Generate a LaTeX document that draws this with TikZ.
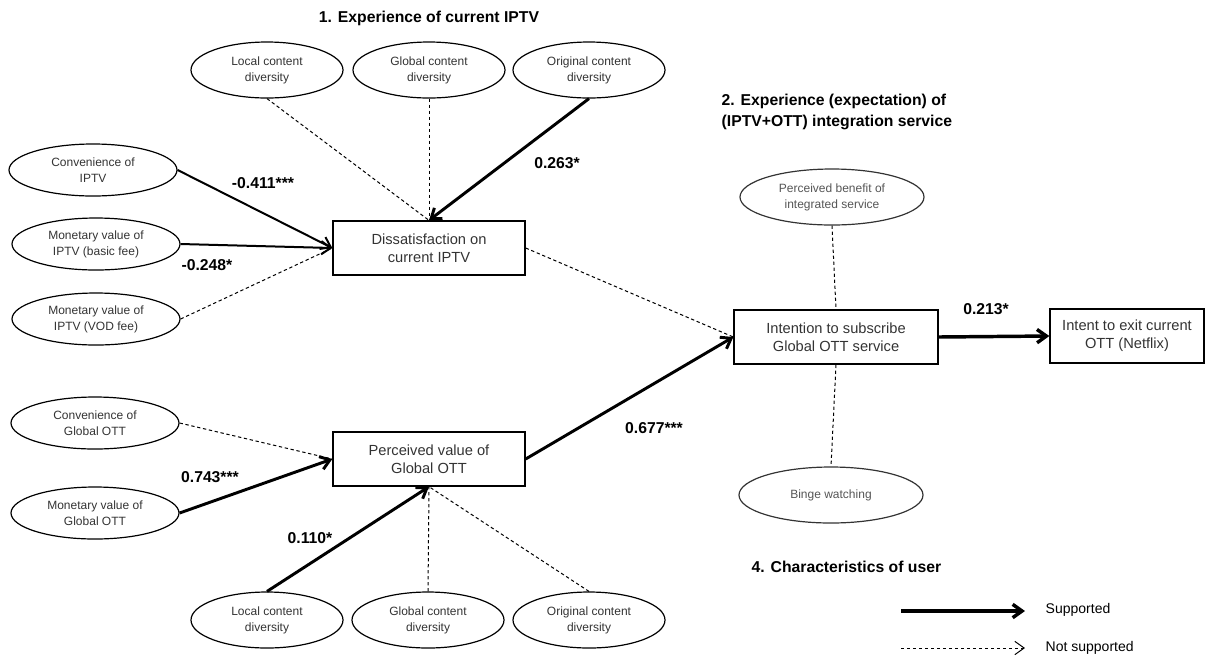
\documentclass[tikz,border=0pt]{standalone}
\usepackage{fontspec}
\setmainfont{Liberation Sans}
\usetikzlibrary{shapes.geometric,arrows.meta}
\definecolor{txt}{HTML}{333333}
\definecolor{soft}{HTML}{555555}
\tikzset{
  oval/.style={ellipse,draw,line width=0.9pt,inner sep=0pt,align=center,text=txt,
    font=\fontsize{9}{12}\selectfont},
  ovalC/.style={oval,minimum width=114pt,minimum height=42pt},
  ovalL/.style={oval,minimum width=126pt,minimum height=39pt},
  ovalR/.style={oval,minimum width=138pt,minimum height=42pt,text=soft,draw=black!80},
  boxnode/.style={rectangle,draw,line width=1pt,inner sep=0pt,align=center,text=txt,
    minimum height=40.5pt,font=\fontsize{11}{13.5}\selectfont},
  coef/.style={font=\fontsize{11.8}{13}\selectfont\bfseries},
  heading/.style={font=\fontsize{11.8}{15.75}\selectfont\bfseries,align=left},
  legtext/.style={font=\fontsize{10.5}{12}\selectfont,anchor=west},
  tip/.style={-{Straight Barb[length=7pt,width=10pt]}},
  strong/.style={tip,line width=2.2pt},
  medium/.style={tip,line width=1.5pt},
  weak/.style={line width=0.75pt,dash pattern=on 2.5pt off 2pt},
}
\begin{document}
\begin{tikzpicture}[x=0.75pt,y=-0.75pt]
\useasboundingbox (0,0) rectangle (1206,662);
% headings
\node[heading] (t1) at (429,18) {1. Experience of current IPTV};
\node[heading,anchor=west] (t2) at (717,112) {2. Experience (expectation) of\\(IPTV+OTT) integration service};
\node[heading,anchor=west] (t4) at (747,567) {4. Characteristics of user};
% top ellipses
\node[ovalC] (L1) at (267,70) {Local content\\diversity};
\node[ovalC] (G1) at (429,70) {Global content\\diversity};
\node[ovalC] (O1) at (589,70) {Original content\\diversity};
% left ellipses
\node[ovalL] (C1) at (93,170) {Convenience of\\IPTV};
\node[ovalL] (B1) at (96,244) {Monetary value of\\IPTV (basic fee)};
\node[ovalL] (V1) at (96,319) {Monetary value of\\IPTV (VOD fee)};
\node[ovalL] (C2) at (95,423) {Convenience of\\Global OTT};
\node[ovalL] (M2) at (95,513) {Monetary value of\\Global OTT};
% bottom ellipses
\node[ovalC] (L2) at (267,620) {Local content\\diversity};
\node[ovalC] (G2) at (428,620) {Global content\\diversity};
\node[ovalC] (O2) at (589,620) {Original content\\diversity};
% boxes
\node[boxnode,minimum width=144pt] (D) at (429,248) {Dissatisfaction on\\current IPTV};
\node[boxnode,minimum width=144pt] (P) at (429,459) {Perceived value of\\Global OTT};
\node[boxnode,minimum width=153pt] (I) at (836,337) {Intention to subscribe\\Global OTT service};
\node[boxnode,minimum width=115.5pt] (E) at (1127,336) {Intent to exit current\\OTT (Netflix)};
% right ellipses
\node[ovalR] (PB) at (832,197) {Perceived benefit of\\integrated service};
\node[ovalR] (BW) at (831,495) {Binge watching};
% connectors to D
\draw[weak] (L1.south) -- (D.north);
\draw[weak] (G1.south) -- (D.north);
\draw[strong] (O1.south) -- (D.north);
\draw[medium] (C1.east) -- (D.west);
\draw[medium] (B1.east) -- (D.west);
\draw[weak] (V1.east) -- (D.west);
% connectors to P
\draw[weak] (C2.east) -- (P.west);
\draw[strong] (M2.east) -- (P.west);
\draw[strong] (L2.north) -- (P.south);
\draw[weak] (G2.north) -- (P.south);
\draw[weak] (O2.north) -- (P.south);
% to I and E
\draw[weak] (D.east) -- (I.west);
\draw[strong] (P.east) -- (I.west);
\draw[weak] (PB.south) -- (I.north);
\draw[weak] (I.south) -- (BW.north);
\draw[strong,line width=2.6pt] (I.east) -- (E.west);
% coefficients
\node[coef] (k1) at (263,183) {-0.411***};
\node[coef] (k2) at (207,265) {-0.248*};
\node[coef] (k3) at (557,163) {0.263*};
\node[coef] (k4) at (210,477) {0.743***};
\node[coef] (k5) at (310,538) {0.110*};
\node[coef] (k6) at (654,428) {0.677***};
\node[coef] (k7) at (986,309) {0.213*};
% legend
\coordinate (s1) at (901,611);
\coordinate (s2) at (1025,611);
\coordinate (n1) at (901,648);
\coordinate (n2) at (1025,648);
\draw[strong,line width=2.6pt] (s1) -- (s2);
\draw[weak,tip] (n1) -- (n2);
\node[legtext] (ls) at (1041,610) {Supported};
\node[legtext] (ln) at (1041,648) {Not supported};
\end{tikzpicture}
\end{document}
